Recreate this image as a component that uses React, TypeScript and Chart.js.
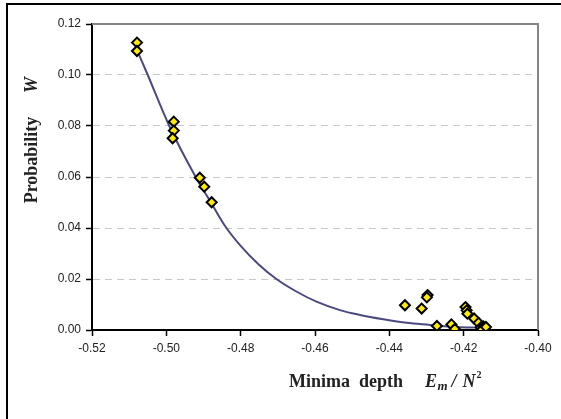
import React, { useEffect, useRef } from 'react';
import { Chart, registerables } from 'chart.js';

Chart.register(...registerables);

// Measured minima (scatter, diamonds)
const minimaDepth = [
  -0.5079, -0.5079, -0.498, -0.498, -0.4983, -0.491, -0.4898, -0.4878,
  -0.4358, -0.4313, -0.4297, -0.4299, -0.4272, -0.4233, -0.4224,
  -0.4195, -0.4192, -0.419, -0.4172, -0.416, -0.4154, -0.4147, -0.4143, -0.415, -0.414,
];
const probability = [
  0.1127, 0.1094, 0.0817, 0.0782, 0.0752, 0.0597, 0.0562, 0.0501,
  0.0097, 0.0084, 0.0137, 0.0128, 0.0016, 0.0022, 0.0004,
  0.009, 0.0077, 0.0064, 0.0045, 0.0028, 0.001, 0.0014, 0.0008, 0.0002, 0.0012,
];

// Fitted curve
const fitDepth = [
  -0.5078, -0.505, -0.4992, -0.4921, -0.488, -0.4843, -0.48, -0.475, -0.4703,
  -0.4649, -0.4596, -0.4533, -0.4479, -0.4416, -0.4353, -0.4291, -0.4237, -0.414,
];
const fitProbability = [
  0.1095, 0.1, 0.08, 0.06, 0.05, 0.041, 0.033, 0.0255, 0.0199,
  0.015, 0.0111, 0.0078, 0.0059, 0.0042, 0.0028, 0.002, 0.0013, 0.0008,
];

const xTickValues = [-0.52, -0.5, -0.48, -0.46, -0.44, -0.42, -0.4];
const yTickValues = [0, 0.02, 0.04, 0.06, 0.08, 0.1, 0.12];

const W = 561;
const H = 419;
const SERIF = '"Liberation Serif", "DejaVu Serif", serif';

const decorPlugin = {
  id: 'decor',
  beforeDraw(chart: any) {
    const ctx = chart.ctx;
    ctx.save();
    ctx.fillStyle = '#ffffff';
    ctx.fillRect(0, 0, W, H);
    ctx.restore();
  },
  afterDraw(chart: any) {
    const ctx = chart.ctx;
    const a = chart.chartArea;
    ctx.save();
    // outer figure frame
    ctx.fillStyle = '#000000';
    ctx.fillRect(6, 3, W - 6, 2);
    ctx.fillRect(6, 3, 2, H - 3);
    // gray top & right plot border
    ctx.fillStyle = '#858585';
    ctx.fillRect(a.left, a.top - 1, a.right - a.left + 1, 2);
    ctx.fillRect(a.right - 1, a.top - 1, 2, a.bottom - a.top + 1);

    ctx.fillStyle = '#222222';
    ctx.textBaseline = 'alphabetic';
    // y title
    ctx.save();
    ctx.translate(37, 0);
    ctx.rotate(-Math.PI / 2);
    ctx.textAlign = 'center';
    ctx.font = 'bold 18px ' + SERIF;
    ctx.fillText('Probability', -160, 0);
    ctx.font = 'italic bold 18px ' + SERIF;
    ctx.fillText('W', -85, 0);
    ctx.restore();

    // x title
    const base = 387;
    ctx.textAlign = 'left';
    ctx.font = 'bold 18px ' + SERIF;
    ctx.fillText('Minima  depth', 289, base);
    let x = 425;
    ctx.font = 'italic bold 18px ' + SERIF;
    ctx.fillText('E', x, base);
    x += ctx.measureText('E').width + 0.5;
    ctx.font = 'italic bold 13px ' + SERIF;
    ctx.fillText('m', x, base + 3);
    x += ctx.measureText('m').width + 4;
    ctx.font = 'italic bold 18px ' + SERIF;
    ctx.fillText('/', x, base);
    x += ctx.measureText('/').width + 6;
    ctx.fillText('N', x, base);
    x += ctx.measureText('N').width + 1;
    ctx.font = 'bold 10px ' + SERIF;
    ctx.fillText('2', x, base - 9);
    ctx.restore();
  },
};

export default function App() {
  const ref = useRef<HTMLCanvasElement | null>(null);

  useEffect(() => {
    if (!ref.current) return;
    const chart = new Chart(ref.current, {
      type: 'scatter',
      data: {
        datasets: [
          {
            label: 'Minima',
            data: minimaDepth.map((v, i) => ({ x: v, y: probability[i] })),
            pointStyle: 'rectRot',
            pointRadius: 5,
            pointBorderWidth: 2,
            pointBackgroundColor: '#FFEA00',
            pointBorderColor: '#000000',
            showLine: false,
            order: 1,
          },
          {
            label: 'Fit',
            data: fitDepth.map((v, i) => ({ x: v, y: fitProbability[i] })),
            showLine: true,
            pointRadius: 0,
            borderColor: '#4B4A80',
            borderWidth: 2,
            cubicInterpolationMode: 'monotone',
            order: 2,
          },
        ],
      },
      options: {
        animation: false,
        responsive: false,
        maintainAspectRatio: false,
        layout: { padding: { left: 0, top: 24, right: 23, bottom: 0 } },
        plugins: {
          legend: { display: false },
          tooltip: { enabled: false },
          title: { display: false },
        },
        scales: {
          x: {
            type: 'linear',
            min: -0.52,
            max: -0.4,
            afterBuildTicks: (s: any) => {
              s.ticks = xTickValues.map((v) => ({ value: v }));
            },
            afterFit: (s: any) => {
              s.height = H - 330;
            },
            ticks: {
              callback: (v: any) => Number(v).toFixed(2),
              color: '#222222',
              font: { family: '"Liberation Sans", Arial, sans-serif', size: 12 },
              padding: 5,
              maxRotation: 0,
              autoSkip: false,
            },
            grid: {
              drawOnChartArea: false,
              drawTicks: true,
              tickLength: 6,
              tickColor: '#000000',
              tickWidth: 1.5,
            },
            border: { display: true, color: '#000000', width: 2 },
          },
          y: {
            type: 'linear',
            min: 0,
            max: 0.12,
            afterBuildTicks: (s: any) => {
              s.ticks = yTickValues.map((v) => ({ value: v }));
            },
            afterFit: (s: any) => {
              s.width = 92;
            },
            ticks: {
              callback: (v: any) => Number(v).toFixed(2),
              color: '#222222',
              font: { family: '"Liberation Sans", Arial, sans-serif', size: 12 },
              padding: 5,
              autoSkip: false,
            },
            grid: {
              drawOnChartArea: true,
              drawTicks: true,
              tickLength: 6,
              tickColor: '#000000',
              tickWidth: 1.5,
              tickBorderDash: [],
              color: (c: any) =>
                c.tick && (Math.abs(c.tick.value) < 1e-9 || Math.abs(c.tick.value - 0.12) < 1e-9)
                  ? 'rgba(0,0,0,0)'
                  : '#C8C8C8',
              lineWidth: 1,
            },
            border: { display: true, color: '#000000', width: 2, dash: [7, 5] },
          },
        },
      },
      plugins: [decorPlugin],
    });
    return () => chart.destroy();
  }, []);

  return (
    <div style={{ position: 'fixed', left: 0, top: 0, width: W, height: H, background: '#fff' }}>
      <canvas ref={ref} width={W} height={H} style={{ display: 'block', width: W, height: H }} />
    </div>
  );
}
